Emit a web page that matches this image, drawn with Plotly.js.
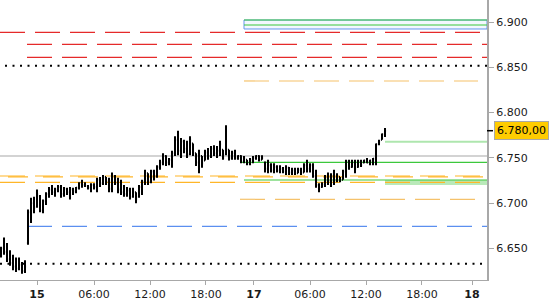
<!DOCTYPE html>
<html>
<head>
<meta charset="utf-8">
<script src="https://cdn.plot.ly/plotly-3.0.1.min.js"></script>
<style>html,body{margin:0;padding:0;background:#fff}#chart{width:550px;height:300px}</style>
</head>
<body>
<div id="chart"></div>
<script>
// ---- data ----
const high = [6.652,6.662,6.656,6.648,6.643,6.640,6.640,6.635,6.637,6.693,
6.706,6.707,6.715,6.709,6.704,6.712,6.718,6.720,6.717,6.720,
6.720,6.718,6.717,6.718,6.717,6.718,6.723,6.726,6.723,6.720,
6.722,6.722,6.728,6.729,6.731,6.729,6.728,6.734,6.731,6.728,
6.726,6.720,6.718,6.717,6.717,6.712,6.720,6.726,6.737,6.733,
6.737,6.737,6.742,6.748,6.755,6.753,6.750,6.758,6.774,6.780,
6.772,6.770,6.769,6.774,6.766,6.755,6.759,6.752,6.759,6.761,
6.763,6.764,6.763,6.769,6.759,6.786,6.759,6.758,6.759,6.753,
6.753,6.752,6.748,6.750,6.752,6.753,6.753,6.753,6.746,6.748,
6.744,6.744,6.742,6.742,6.740,6.742,6.740,6.739,6.739,6.739,
6.739,6.744,6.748,6.744,6.744,6.737,6.722,6.723,6.731,6.734,
6.733,6.737,6.733,6.729,6.737,6.748,6.748,6.748,6.748,6.748,
6.748,6.748,6.750,6.748,6.750,6.766,6.770,6.777,6.783];
const low = [6.640,6.643,6.635,6.631,6.626,6.624,6.626,6.622,6.623,6.654,
6.678,6.689,6.695,6.690,6.689,6.698,6.706,6.709,6.707,6.712,
6.706,6.707,6.709,6.704,6.709,6.711,6.715,6.717,6.718,6.715,
6.712,6.715,6.712,6.718,6.720,6.720,6.712,6.712,6.720,6.711,
6.709,6.707,6.707,6.704,6.706,6.700,6.706,6.709,6.720,6.720,
6.722,6.725,6.728,6.737,6.742,6.741,6.742,6.739,6.752,6.753,
6.750,6.755,6.750,6.753,6.752,6.741,6.733,6.739,6.747,6.748,
6.750,6.752,6.750,6.752,6.748,6.753,6.747,6.748,6.748,6.748,
6.744,6.744,6.742,6.742,6.744,6.748,6.746,6.748,6.734,6.733,
6.734,6.733,6.734,6.733,6.733,6.731,6.731,6.731,6.731,6.733,
6.731,6.734,6.734,6.734,6.728,6.717,6.712,6.717,6.718,6.720,
6.718,6.720,6.723,6.723,6.726,6.728,6.737,6.739,6.733,6.739,
6.740,6.744,6.744,6.742,6.742,6.742,6.764,6.770,6.773];
const open = [6.645,6.650,6.646,6.638,6.634,6.630,6.628,6.632,6.625,6.656,
6.690,6.700,6.696,6.708,6.692,6.702,6.710,6.715,6.712,6.715,
6.718,6.710,6.716,6.712,6.715,6.713,6.717,6.722,6.720,6.719,
6.717,6.720,6.718,6.726,6.722,6.729,6.724,6.716,6.730,6.722,
6.715,6.712,6.710,6.714,6.707,6.712,6.707,6.718,6.724,6.733,
6.724,6.735,6.730,6.740,6.745,6.752,6.745,6.748,6.755,6.770,
6.758,6.768,6.760,6.754,6.766,6.755,6.745,6.752,6.747,6.756,
6.752,6.760,6.755,6.758,6.759,6.754,6.759,6.750,6.755,6.750,
6.752,6.746,6.748,6.744,6.748,6.750,6.752,6.748,6.745,6.738,
6.742,6.736,6.740,6.736,6.738,6.735,6.739,6.734,6.736,6.733,
6.737,6.734,6.742,6.738,6.742,6.730,6.720,6.718,6.721,6.728,
6.724,6.730,6.725,6.729,6.726,6.735,6.746,6.740,6.745,6.740,
6.746,6.745,6.747,6.745,6.747,6.749,6.765,6.770,6.776];
const close = [6.650,6.646,6.638,6.634,6.630,6.628,6.632,6.625,6.630,6.690,
6.700,6.695,6.710,6.692,6.702,6.710,6.715,6.712,6.715,6.718,
6.710,6.716,6.712,6.715,6.713,6.717,6.722,6.720,6.719,6.717,
6.720,6.718,6.726,6.722,6.729,6.724,6.716,6.730,6.722,6.715,
6.712,6.710,6.714,6.707,6.712,6.704,6.718,6.724,6.733,6.724,
6.735,6.730,6.740,6.745,6.752,6.745,6.748,6.755,6.770,6.758,
6.768,6.760,6.754,6.770,6.756,6.745,6.752,6.744,6.756,6.752,
6.760,6.755,6.758,6.765,6.750,6.760,6.750,6.755,6.750,6.752,
6.746,6.750,6.744,6.748,6.750,6.752,6.748,6.750,6.738,6.742,
6.736,6.740,6.736,6.738,6.735,6.739,6.734,6.736,6.733,6.737,
6.734,6.742,6.738,6.742,6.730,6.720,6.715,6.721,6.728,6.724,
6.730,6.725,6.730,6.725,6.735,6.746,6.740,6.745,6.738,6.746,
6.742,6.747,6.745,6.747,6.749,6.765,6.768,6.776,6.780];

const tickPos  = [12, 31, 49.67, 68.33, 84.33, 103, 121.67, 140.33, 157];
const tickText = ['<b>15</b>','06:00','12:00','18:00','<b>17</b>','06:00','12:00','18:00','<b>18</b>'];
const yTicks   = [6.650, 6.700, 6.750, 6.800, 6.850, 6.900];

const redLevels    = [6.8886, 6.8754, 6.8610];
const dotLevels    = [6.8517, 6.6332];
const orangeLevels = [6.7300, 6.7290, 6.7229];
const paleOrange   = [6.8349, 6.7043];
const greenLevels  = [6.9022, 6.8967, 6.7451, 6.7256];
const zoneLevels   = [6.8923, 6.9022];
const bandLevels   = [6.7201, 6.7256];
const lightGreen   = [6.7679];
const blueLevels   = [6.6745];
const grayLevels   = [6.7521];
const lastPrice    = 6.780;
const lastLabel    = '6.780,00';

// ---- layout helpers ----
const W = 487; // plot width px
const px = p => p / W;
function hline(y, x0, x1, color, width, dash) {
  return {type:'line', xref:'paper', yref:'y', x0:px(x0), x1:px(x1), y0:y, y1:y,
          line:{color:color, width:width, dash:dash||'solid'}, layer:'below'};
}
const shapes = [];
shapes.push({type:'rect', xref:'paper', yref:'y', x0:px(244), x1:1, y0:zoneLevels[0], y1:zoneLevels[1],
  line:{color:'#6495ed', width:1}, fillcolor:'rgba(235,242,255,0.6)', layer:'below'});
shapes.push(hline(redLevels[0], 0, W, '#e52a2a', 1.2, '25px,10px'));
shapes.push(hline(redLevels[1], 27, W, '#e52a2a', 1.2, '25px,10px'));
shapes.push(hline(redLevels[2], 27, W, '#e52a2a', 1.2, '25px,10px'));
shapes.push(hline(dotLevels[0], 5, W, '#000', 2, '2px,5.5px'));
shapes.push(hline(dotLevels[1], 0, 483, '#000', 2, '2px,5.5px'));
shapes.push(hline(paleOrange[0], 244, 478, '#f5c26b', 1.2, '25px,10px'));
shapes.push(hline(paleOrange[1], 240, 478, '#f5c26b', 1.2, '25px,10px'));
shapes.push({type:'rect', xref:'paper', yref:'y', x0:px(385), x1:1, y0:bandLevels[0], y1:bandLevels[1],
  line:{width:0}, fillcolor:'#b9e9b9', layer:'below'});
shapes.push(hline(orangeLevels[0], 0, W, '#ffb629', 1.2, '25px,10px'));
shapes.push(hline(orangeLevels[1], 8, W, '#ffb629', 1.2, '20px,15px'));
shapes.push(hline(orangeLevels[2], 0, W, '#ffb629', 1.2, '25px,10px'));
shapes.push(hline(greenLevels[0], 244, W, '#3cc83c', 1.2));
shapes.push(hline(greenLevels[1], 244, W, '#3cc83c', 1.2));
shapes.push(hline(greenLevels[2], 240, W, '#3cc83c', 1.2));
shapes.push(hline(greenLevels[3], 244, W, '#3cc83c', 1.2));
shapes.push(hline(lightGreen[0], 385, W, '#aee6ae', 2));
shapes.push(hline(blueLevels[0], 27, W, '#5b8ff0', 1.2, '25px,10px'));
shapes.push(hline(grayLevels[0], 0, W, '#a8a8a8', 1.2));
// price marker tick on the axis
shapes.push({type:'line', xref:'paper', yref:'y', x0:1, x1:1+6/W, y0:lastPrice, y1:lastPrice,
  line:{color:'#000', width:1.5}});

const trace = {
  type:'ohlc',
  x: high.map((_, i) => i),
  open: open, high: high, low: low, close: close,
  increasing:{line:{color:'#000', width:2}},
  decreasing:{line:{color:'#000', width:2}},
  tickwidth:0.35,
  hoverinfo:'skip',
  showlegend:false
};

const layout = {
  width:550, height:300,
  margin:{l:0, r:63, t:0, b:20, pad:0},
  paper_bgcolor:'#fff', plot_bgcolor:'#fff',
  font:{family:'DejaVu Sans, Verdana, sans-serif', size:11, color:'#1a1a1a'},
  showlegend:false,
  xaxis:{
    range:[-0.333, 162], rangeslider:{visible:false},
    showgrid:false, zeroline:false,
    showline:true, linecolor:'#a8a8a8', linewidth:1,
    ticks:'outside', ticklen:4, tickcolor:'#a8a8a8',
    tickmode:'array', tickvals:tickPos, ticktext:tickText,
    tickfont:{size:11, color:'#1a1a1a'}, fixedrange:true
  },
  yaxis:{
    side:'right', range:[6.6152, 6.9243],
    showgrid:false, zeroline:false,
    showline:true, linecolor:'#a8a8a8', linewidth:2,
    ticks:'outside', ticklen:5, tickcolor:'#a8a8a8',
    tickmode:'array', tickvals:yTicks, tickformat:'.3f',
    tickfont:{size:11, color:'#1a1a1a'}, fixedrange:true
  },
  shapes:shapes,
  annotations:[{
    xref:'paper', yref:'y', x:1, y:lastPrice, xanchor:'left', yanchor:'middle',
    xshift:7, text:lastLabel, showarrow:false,
    bgcolor:'#ffcc00', bordercolor:'#a8a8a8', borderwidth:1, borderpad:2,
    font:{size:11, color:'#000', family:'DejaVu Sans, Verdana, sans-serif'}
  }]
};

Plotly.newPlot('chart', [trace], layout, {staticPlot:true, displayModeBar:false});
</script>
</body>
</html>
